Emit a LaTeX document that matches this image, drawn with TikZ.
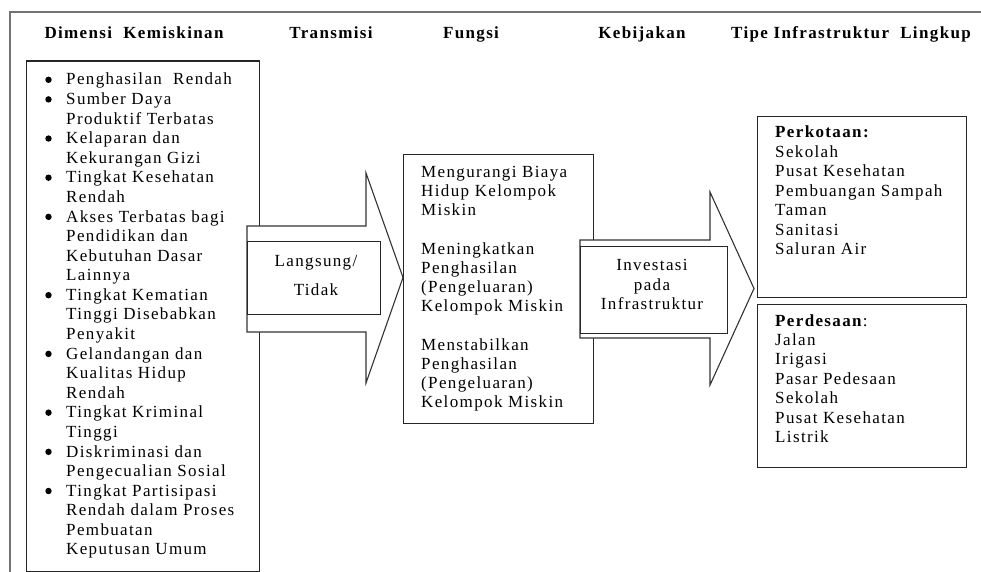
\documentclass[tikz,border=0pt]{standalone}
\usepackage{fontspec}
\setmainfont{Liberation Serif}[LetterSpace=8]
\newcommand\rowsL[1]{\begin{tabular}[t]{@{}l@{}}#1\end{tabular}}
\newcommand\rowsC[1]{\begin{tabular}[t]{@{}c@{}}#1\end{tabular}}
\begin{document}
\begin{tikzpicture}[x=1pt,y=-1pt,
  frame/.style={draw=black!55,line width=2pt},
  box/.style={draw=black!85,line width=1.1pt,fill=white,anchor=north west,inner sep=0pt},
  blockarrow/.style={draw=black!80,line width=1.1pt,fill=white,line join=miter},
  head/.style={anchor=base,inner sep=0pt,font=\bfseries\fontsize{17}{19.6}\selectfont},
  txt/.style={anchor=base west,inner sep=0pt},
  txtc/.style={anchor=base,inner sep=0pt}]
\useasboundingbox (0,0) rectangle (981,572);
% outer frame
\draw[frame] (9.5,572) -- (9.5,12.5) -- (981,12.5);
% headers
\node[head] (h1) at (134,39) {Dimensi\ \ Kemiskinan};
\node[head] (h2) at (331,39) {Transmisi};
\node[head] (h3) at (471,39) {Fungsi};
\node[head] (h4) at (642,39) {Kebijakan};
\node[head] (h5) at (851,39) {Tipe Infrastruktur\ \ Lingkup};
% boxes
\node[box,minimum width=233pt,minimum height=510pt] (dim) at (25.5,60.5) {};
\node[box,minimum width=190pt,minimum height=269pt] (fun) at (403,154) {};
% text of left box
\node[txt,font=\fontsize{17}{19.58}\selectfont] (dimtxt) at (66,85) {\rowsL{%
Penghasilan\ \ Rendah\\
Sumber Daya\\
Produktif Terbatas\\
Kelaparan dan\\
Kekurangan Gizi\\
Tingkat Kesehatan\\
Rendah\\
Akses Terbatas bagi\\
Pendidikan dan\\
Kebutuhan Dasar\\
Lainnya\\
Tingkat Kematian\\
Tinggi Disebabkan\\
Penyakit\\
Gelandangan dan\\
Kualitas Hidup\\
Rendah\\
Tingkat Kriminal\\
Tinggi\\
Diskriminasi dan\\
Pengecualian Sosial\\
Tingkat Partisipasi\\
Rendah dalam Proses\\
Pembuatan\\
Keputusan Umum}};
% bullets
\foreach \i in {0,1,3,5,7,11,14,17,19,21}
  \fill (48.5,85+\i*19.58-5.2) circle (3.2pt);
% text of fungsi box
\node[txt,font=\fontsize{17}{19.2}\selectfont] (funtxt) at (421,177.5) {\rowsL{%
Mengurangi Biaya\\
Hidup Kelompok\\
Miskin\\
\\
Meningkatkan\\
Penghasilan\\
(Pengeluaran)\\
Kelompok Miskin\\
\\
Menstabilkan\\
Penghasilan\\
(Pengeluaran)\\
Kelompok Miskin}};
% block arrow 1 (Transmisi)
\draw[blockarrow] (247,226) -- (366,226) -- (366,173) -- (403,277.5) -- (366,383) -- (366,332) -- (247,332) -- cycle;
\node[box,minimum width=133pt,minimum height=73pt] (trans) at (247,241) {};
\node[txtc,font=\fontsize{17}{29}\selectfont] (transtxt) at (316,266) {\rowsC{Langsung/\\Tidak}};
% block arrow 2 (Kebijakan)
\draw[blockarrow] (580,240) -- (710,240) -- (710,192) -- (754,288.5) -- (710,385) -- (710,338) -- (580,338) -- cycle;
\node[box,minimum width=147pt,minimum height=87pt] (keb) at (580,246) {};
\node[txtc,font=\fontsize{17}{19.3}\selectfont] (kebtxt) at (652,270.7) {\rowsC{Investasi\\pada\\Infrastruktur}};
% infrastructure boxes
\node[box,minimum width=209pt,minimum height=181pt] (kota) at (757,116) {};
\node[box,minimum width=209pt,minimum height=163pt] (desa) at (757,304) {};
\node[txt,font=\fontsize{17}{19.4}\selectfont] (kotatxt) at (775,138) {\rowsL{%
\textbf{Perkotaan:}\\
Sekolah\\
Pusat Kesehatan\\
Pembuangan Sampah\\
Taman\\
Sanitasi\\
Saluran Air}};
\node[txt,font=\fontsize{17}{19.45}\selectfont] (desatxt) at (775,326) {\rowsL{%
\textbf{Perdesaan}:\\
Jalan\\
Irigasi\\
Pasar Pedesaan\\
Sekolah\\
Pusat Kesehatan\\
Listrik}};
\end{tikzpicture}
\end{document}
